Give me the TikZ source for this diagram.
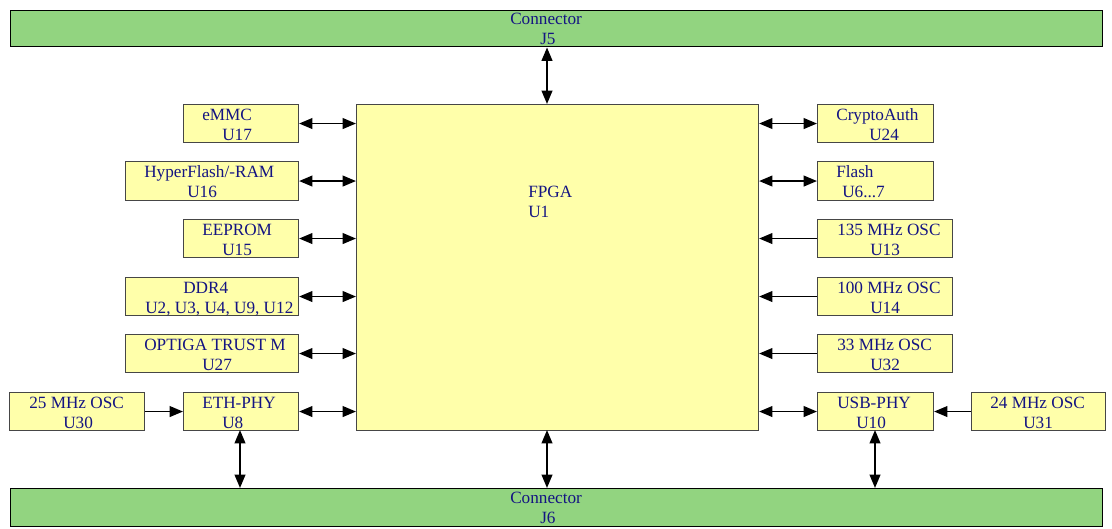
\documentclass[tikz,border=0pt]{standalone}
\usepackage{fontspec}
\setmainfont{Liberation Serif}
\usetikzlibrary{arrows.meta}
\definecolor{congreen}{RGB}{146,212,128}
\definecolor{boxyellow}{RGB}{255,255,170}
\definecolor{txtblue}{RGB}{20,20,130}
\definecolor{boxline}{RGB}{70,70,70}
\begin{document}
\begin{tikzpicture}[x=0.75pt,y=-0.75pt,
  box/.style={draw=boxline,line width=0.8pt,fill=boxyellow,rectangle,anchor=north west,inner sep=0pt},
  conbar/.style={draw=black,line width=1.1pt,fill=congreen,rectangle,anchor=north west,inner sep=0pt},
  txt/.style={anchor=base west,inner sep=0pt,text=txtblue,font=\fontsize{12.9}{15}\selectfont},
  biarrow/.style={line width=1.4pt,{Triangle[length=10pt,width=8pt]}-{Triangle[length=10pt,width=8pt]}},
  onearrow/.style={line width=1.4pt,-{Triangle[length=10pt,width=8pt]}}]
\useasboundingbox (0,0) rectangle (1112,528);
% connectors
\node[conbar,minimum width=1092*0.75pt,minimum height=36*0.75pt] (j5) at (10,10) {};
\node[conbar,minimum width=1092*0.75pt,minimum height=38*0.75pt] (j6) at (10,488) {};
\node[txt] (j5a) at (510,25) {Connector};
\node[txt] (j5b) at (540,45) {J5};
\node[txt] (j6a) at (510,503) {Connector};
\node[txt] (j6b) at (540,523) {J6};
% FPGA
\node[box,minimum width=402*0.75pt,minimum height=326*0.75pt] (fpga) at (356,104) {};
\node[txt] (fa) at (528,197) {FPGA};
\node[txt] (fb) at (528,217) {U1};
% left boxes
\node[box,minimum width=115*0.75pt,minimum height=38*0.75pt] (emmc) at (183,104) {};
\node[txt] at (202,120) {eMMC};
\node[txt] at (222,140) {U17};
\node[box,minimum width=173*0.75pt,minimum height=39*0.75pt] (hyper) at (125,161) {};
\node[txt] at (144,177) {HyperFlash/-RAM};
\node[txt] at (187,197) {U16};
\node[box,minimum width=115*0.75pt,minimum height=38*0.75pt] (eeprom) at (183,219) {};
\node[txt] at (202,235) {EEPROM};
\node[txt] at (222,255) {U15};
\node[box,minimum width=173*0.75pt,minimum height=38*0.75pt] (ddr) at (125,277) {};
\node[txt] at (183,293) {DDR4};
\node[txt] at (145,313) {U2, U3, U4, U9, U12};
\node[box,minimum width=173*0.75pt,minimum height=38*0.75pt] (optiga) at (125,334) {};
\node[txt] at (144,350) {OPTIGA TRUST M};
\node[txt] at (202,370) {U27};
\node[box,minimum width=115*0.75pt,minimum height=38*0.75pt] (eth) at (183,392) {};
\node[txt] at (202,408) {ETH-PHY};
\node[txt] at (222,428) {U8};
\node[box,minimum width=135*0.75pt,minimum height=38*0.75pt] (osc25) at (9,392) {};
\node[txt] at (29,408) {25 MHz OSC};
\node[txt] at (63,428) {U30};
% right boxes
\node[box,minimum width=116*0.75pt,minimum height=38*0.75pt] (crypto) at (817,104) {};
\node[txt] at (836,120) {CryptoAuth};
\node[txt] at (869,140) {U24};
\node[box,minimum width=116*0.75pt,minimum height=39*0.75pt] (flash) at (817,161) {};
\node[txt] at (836,177) {Flash};
\node[txt] at (842,197) {U6...7};
\node[box,minimum width=135*0.75pt,minimum height=38*0.75pt] (osc135) at (817,219) {};
\node[txt] at (837,235) {135 MHz OSC};
\node[txt] at (870,255) {U13};
\node[box,minimum width=135*0.75pt,minimum height=38*0.75pt] (osc100) at (817,277) {};
\node[txt] at (837,293) {100 MHz OSC};
\node[txt] at (870,313) {U14};
\node[box,minimum width=135*0.75pt,minimum height=38*0.75pt] (osc33) at (817,334) {};
\node[txt] at (837,350) {33 MHz OSC};
\node[txt] at (870,370) {U32};
\node[box,minimum width=116*0.75pt,minimum height=38*0.75pt] (usb) at (817,392) {};
\node[txt] at (837,408) {USB-PHY};
\node[txt] at (856,428) {U10};
\node[box,minimum width=134*0.75pt,minimum height=38*0.75pt] (osc24) at (971,392) {};
\node[txt] at (990,408) {24 MHz OSC};
\node[txt] at (1023,428) {U31};
% connectors left
\foreach \n in {emmc,hyper,eeprom,ddr,optiga,eth}
  \draw[biarrow] (\n.east) -- (fpga.west |- \n.east);
\draw[onearrow] (osc25.east) -- (eth.west);
% connectors right
\foreach \n in {crypto,flash,usb}
  \draw[biarrow] (fpga.east |- \n.west) -- (\n.west);
\foreach \n in {osc135,osc100,osc33}
  \draw[onearrow] (\n.west) -- (fpga.east |- \n.west);
\draw[onearrow] (osc24.west) -- (usb.east);
% vertical
\coordinate (ctop) at (547,104);
\coordinate (cbot) at (547,430);
\draw[biarrow] (j5.south -| ctop) -- (ctop);
\draw[biarrow] (cbot) -- (j6.north -| cbot);
\coordinate (ethb) at (240,430);
\coordinate (usbb) at (875,430);
\draw[biarrow] (ethb) -- (j6.north -| ethb);
\draw[biarrow] (usbb) -- (j6.north -| usbb);
\end{tikzpicture}
\end{document}
